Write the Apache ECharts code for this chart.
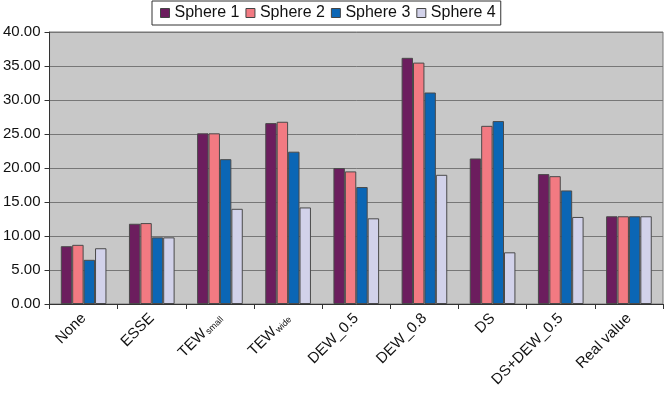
<!DOCTYPE html>
<html>
<head>
<meta charset="utf-8">
<script src="https://cdn.jsdelivr.net/npm/echarts@6/dist/echarts.min.js"></script>
<style>
  html, body { margin: 0; padding: 0; background: #fff; }
  #chart { width: 666px; height: 395px; }
</style>
</head>
<body>
<div id="chart"></div>
<script>
// categories along x axis
const categories = ['None', 'ESSE', 'TEW_small', 'TEW_wide', 'DEW_0.5', 'DEW_0.8', 'DS', 'DS+DEW_0.5', 'Real value'];

// values
const sphere1 = [8.5, 11.8, 25.1, 26.6, 20.0, 36.2, 21.4, 19.1, 12.9];
const sphere2 = [8.7, 11.9, 25.1, 26.8, 19.5, 35.5, 26.2, 18.8, 12.9];
const sphere3 = [6.5, 9.8, 21.3, 22.4, 17.2, 31.1, 26.9, 16.7, 12.9];
const sphere4 = [8.2, 9.8, 14.0, 14.2, 12.6, 19.0, 7.6, 12.8, 12.9];

const seriesNames = ['Sphere 1', 'Sphere 2', 'Sphere 3', 'Sphere 4'];
const seriesColors = ['#6c1d5e', '#f27a82', '#0b66b5', '#d2d2ea'];
const seriesData = [sphere1, sphere2, sphere3, sphere4];

const chart = echarts.init(document.getElementById('chart'));

// TEW_small / TEW_wide get subscripts
function fmtLabel(v) {
  if (v.indexOf('TEW_') === 0) {
    return '{m|TEW}{s|' + v.slice(4) + '}';
  }
  return '{m|' + v + '}';
}

chart.setOption({
  animation: false,
  textStyle: { fontFamily: 'Liberation Sans, Arial, sans-serif' },
  legend: {
    top: 1,
    left: 152,
    padding: [4, 5, 4, 8],
    borderColor: '#333',
    borderWidth: 1,
    backgroundColor: '#fff',
    itemWidth: 9,
    itemHeight: 9,
    itemGap: 6,
    textStyle: { fontSize: 16, color: '#111', padding: [0, 0, 0, 0] },
    data: seriesNames.map(n => ({ name: n, icon: 'rect', itemStyle: { borderColor: '#444', borderWidth: 1 } }))
  },
  grid: {
    left: 48,
    right: 3,
    top: 32,
    bottom: 91,
    show: true,
    backgroundColor: '#c8c8c8',
    borderColor: '#777',
    borderWidth: 1
  },
  xAxis: {
    type: 'category',
    data: categories,
    axisLine: { lineStyle: { color: '#333', width: 1 } },
    axisTick: { show: true, length: 5, lineStyle: { color: '#333' } },
    axisLabel: {
      rotate: 45,
      margin: 12,
      color: '#111',
      formatter: fmtLabel,
      rich: {
        m: { fontSize: 15, color: '#111' },
        s: { fontSize: 9, color: '#111', verticalAlign: 'bottom', padding: [6, 0, 0, 1] }
      }
    }
  },
  yAxis: {
    type: 'value',
    min: 0,
    max: 40,
    interval: 5,
    axisLine: { show: true, lineStyle: { color: '#333' } },
    axisTick: { show: true, length: 5, lineStyle: { color: '#333' } },
    axisLabel: {
      fontSize: 15,
      color: '#111',
      margin: 9,
      formatter: v => v.toFixed(2)
    },
    splitLine: { lineStyle: { color: '#777', width: 1 } }
  },
  series: seriesNames.map((name, i) => ({
    name: name,
    type: 'bar',
    data: seriesData[i],
    barGap: '0%',
    barCategoryGap: '33%',
    itemStyle: { color: seriesColors[i], borderColor: '#4a4a4a', borderWidth: 1 }
  }))
});
</script>
</body>
</html>
